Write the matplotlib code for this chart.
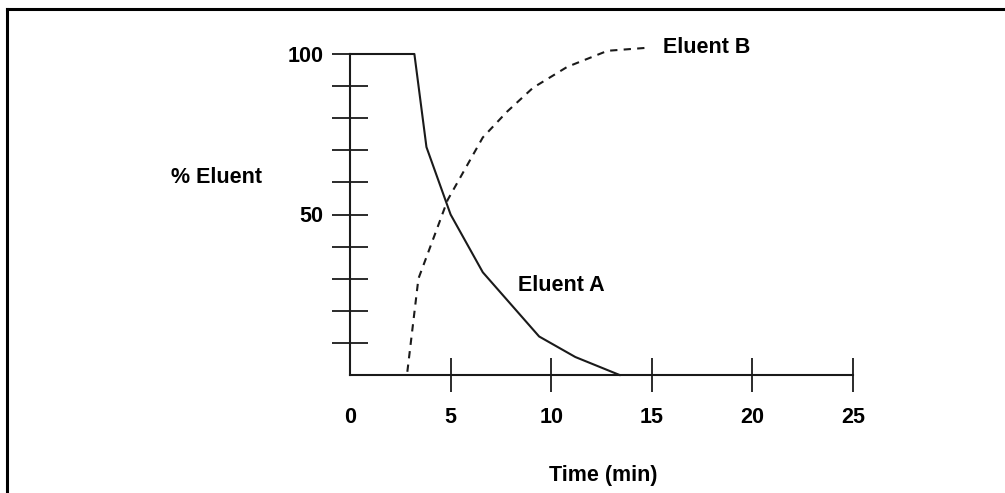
import matplotlib
matplotlib.use('Agg')
import matplotlib.pyplot as plt
from matplotlib.lines import Line2D

# Gradient profile (time in min, % eluent)
time_a = [0, 3.2, 3.8, 5.0, 6.6, 9.4, 11.2, 13.4]
eluent_a = [100, 100, 71, 50, 32, 12, 5.6, 0]

time_b = [2.85, 3.4, 4.35, 4.85, 6.6, 7.8, 9.1, 10.8, 12.8, 14.9]
eluent_b = [1, 30, 46, 54.5, 74, 82, 89.5, 96, 101, 102]

x_ticks = [0, 5, 10, 15, 20, 25]
y_ticks = [10, 20, 30, 40, 50, 60, 70, 80, 90, 100]
y_labels = ['', '', '', '', '50', '', '', '', '', '100']

plt.rcParams['font.family'] = ['Liberation Sans', 'DejaVu Sans']
plt.rcParams['font.weight'] = 'bold'
fs = 15.5

W, H = 1005, 493
fig = plt.figure(figsize=(W / 100, H / 100), dpi=100)
# axes box in pixels: x 350..853, y 54..375
ax = fig.add_axes([350 / W, (H - 375) / H, 503 / W, 321 / H])
ax.set_xlim(0, 25)
ax.set_ylim(0, 100)

ink = '#1a1a1a'
ax.plot(time_a, eluent_a, color=ink, lw=1.5, clip_on=False)
ax.plot(time_b, eluent_b, color=ink, lw=1.5, linestyle=(0, (3.5, 3)), clip_on=False)

for s in ['top', 'right']:
    ax.spines[s].set_visible(False)
for s in ['left', 'bottom']:
    ax.spines[s].set_linewidth(1.5)
    ax.spines[s].set_color(ink)

ax.set_xticks(x_ticks)
ax.set_xticklabels([str(t) for t in x_ticks], fontsize=fs, fontweight='bold')
ax.set_yticks(y_ticks)
ax.set_yticklabels(y_labels, fontsize=fs, fontweight='bold')
ax.tick_params(axis='x', direction='inout', length=24, width=1.3, color=ink, pad=11)
ax.tick_params(axis='y', direction='inout', length=26, width=1.3, color=ink, pad=6)
ax.xaxis.get_major_ticks()[0].tick1line.set_visible(False)

ax.text(8.35, 28, 'Eluent A', fontsize=fs, fontweight='bold', va='center', ha='left')
ax.text(15.55, 102, 'Eluent B', fontsize=fs, fontweight='bold', va='center', ha='left',
        clip_on=False)

fig.text(216 / W, 1 - 177 / H, '% Eluent', fontsize=fs, fontweight='bold',
         ha='center', va='center')
fig.text(603 / W, 1 - 475 / H, 'Time (min)', fontsize=fs, fontweight='bold',
         ha='center', va='center')

# frame lines on top and left
fig.add_artist(Line2D([7 / W, 1], [1 - 9 / H, 1 - 9 / H], transform=fig.transFigure,
                      color='black', lw=2.2))
fig.add_artist(Line2D([7 / W, 7 / W], [0, 1 - 9 / H], transform=fig.transFigure,
                      color='black', lw=2.2))

fig.savefig('out.png', dpi=100)
